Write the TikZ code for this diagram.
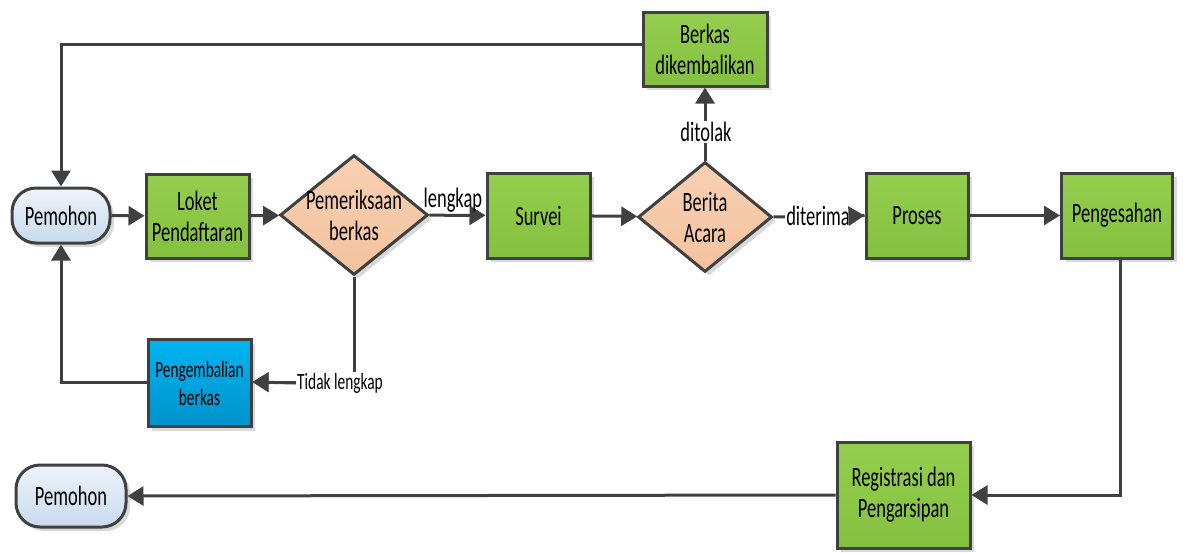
\documentclass[tikz,border=0pt]{standalone}
\usepackage{fontspec}
\setmainfont{Carlito}[FakeStretch=0.66]
\usetikzlibrary{arrows.meta,shapes.geometric,shadows,calc}
\definecolor{edgec}{HTML}{404040}
\definecolor{gtop}{HTML}{95CE4E}
\definecolor{gbot}{HTML}{84C03F}
\definecolor{otop}{HTML}{F8D0B2}
\definecolor{obot}{HTML}{F3C29E}
\definecolor{btop}{HTML}{00B4F0}
\definecolor{bbot}{HTML}{0092CC}
\definecolor{ptop}{HTML}{EEF3FA}
\definecolor{pbot}{HTML}{C8DAEE}
\newcommand{\bigf}{\fontsize{28}{31}\selectfont}
\newcommand{\smallf}{\fontsize{23.3}{28}\selectfont}
\begin{document}
\begin{tikzpicture}[x=1pt,y=-1pt,
  base/.style={draw=edgec,line width=3pt,inner sep=0pt,align=center,font=\bigf,
    drop shadow={shadow xshift=4pt,shadow yshift=-4pt,fill=black!15,opacity=1}},
  gbox/.style={base,rectangle,top color=gtop,bottom color=gbot},
  bbox/.style={base,rectangle,top color=btop,bottom color=bbot,font=\smallf},
  term/.style={base,rectangle,rounded corners=24pt,top color=ptop,bottom color=pbot},
  dia/.style={base,diamond,top color=otop,bottom color=obot},
  conn/.style={draw=edgec,line width=3pt,-{Triangle[length=16pt,width=19pt]}},
  line/.style={draw=edgec,line width=3pt},
  lab/.style={font=\bigf,inner sep=1pt},
  wlab/.style={font=\bigf,fill=white,inner sep=1pt}
]
\useasboundingbox (0,0) rectangle (1183,552);

\node[term,minimum width=98pt,minimum height=55pt] (p1) at (61,215.5) {Pemohon};
\node[gbox,minimum width=103pt,minimum height=84pt] (lk) at (197.5,216) {Loket\\Pendaftaran};
\node[dia,minimum width=148pt,minimum height=120pt] (pb) at (354,215) {};
\node[font=\bigf,align=center] (pbt) at (354,215) {Pemeriksaan\\berkas};
\node[gbox,minimum width=103pt,minimum height=85pt] (sv) at (538.5,215.5) {Survei};
\node[dia,minimum width=134pt,minimum height=110pt] (ba) at (705,217) {};
\node[font=\bigf,align=center] (bat) at (705,217) {Berita\\Acara};
\node[gbox,minimum width=124pt,minimum height=74pt] (bd) at (705,49) {Berkas\\dikembalikan};
\node[gbox,minimum width=102pt,minimum height=85pt] (pr) at (917,215.5) {Proses};
\node[gbox,minimum width=111pt,minimum height=85pt] (ps) at (1117,215.5) {Pengesahan};
\node[bbox,minimum width=103pt,minimum height=87pt] (pg) at (199.5,383) {Pengembalian\\berkas};
\node[gbox,minimum width=133pt,minimum height=106pt] (rg) at (903.5,495) {Registrasi dan\\Pengarsipan};
\node[term,minimum width=110pt,minimum height=62pt] (p2) at (71,496) {Pemohon};

% connectors
\coordinate (c1) at (61,44);
\draw[conn] ($(bd.west)+(0,-5)$) -- (c1) -- (p1.north);
\draw[conn] (p1) -- (lk);
\draw[conn] (lk) -- (pb);
\draw[conn] (pb) -- node[lab,above,pos=0.42] (l1) {lengkap} (sv);
\draw[conn] (sv) -- (ba);
\draw[line] (ba.east) -- (pr.west);
\node[wlab] (l2) at (818,216) {diterima};
\draw[conn] (l2.east) -- (pr.west);
\draw[conn] (ba.north) -- (bd.south);
\node[wlab] (l3) at (706,132) {ditolak};
\draw[conn] (pr) -- (ps);
\coordinate (c2) at (1120,495);
\draw[conn] (ps.south -| c2) -- (c2) -- (rg.east);
\draw[conn] (rg.west) -- (p2.east);
\coordinate (c3) at (354,382);
\draw[conn] (pb.south) -- (c3) -- (pg.east |- c3);
\node[font=\smallf,fill=white,inner sep=1pt] (l4) at (340,383) {Tidak lengkap};
\draw[conn] (l4.west) -- (pg.east |- c3);
\coordinate (c4) at (61,382);
\draw[conn] (pg.west |- c4) -- (c4) -- (p1.south);
\end{tikzpicture}
\end{document}
